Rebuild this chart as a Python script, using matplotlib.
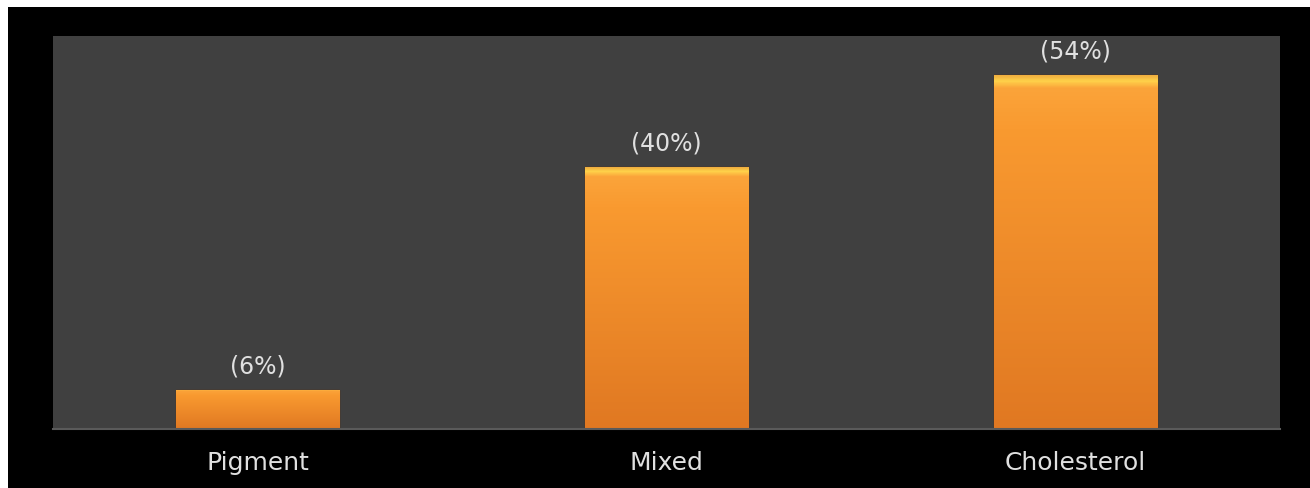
import numpy as np
import matplotlib.pyplot as plt
from matplotlib.patches import Rectangle
from matplotlib.colors import LinearSegmentedColormap

categories = ['Pigment', 'Mixed', 'Cholesterol']
values = [6, 40, 54]
value_labels = ['(6%)', '(40%)', '(54%)']

W, H = 1310, 489
fig = plt.figure(figsize=(W / 100, H / 100), dpi=100, facecolor='black')

# thin white strip on top and left edge like the screenshot
fig.patches.append(Rectangle((0, (H - 8) / H), 1, 8 / H, transform=fig.transFigure,
                             facecolor='white', edgecolor='none'))
fig.patches.append(Rectangle((0, 0), 8 / W, 1, transform=fig.transFigure,
                             facecolor='white', edgecolor='none'))

ax = fig.add_axes([53 / W, (H - 430) / H, 1227 / W, 393 / H])
ax.set_facecolor('#404040')

x = np.arange(len(categories))
bars = ax.bar(x, values, width=0.4, color='#F39230', edgecolor='#5a2e0c',
              linewidth=1.0, zorder=2)

# vertical orange gradient with a yellow highlight at the top of each bar
grad_cmap = LinearSegmentedColormap.from_list(
    'bar', [(0.0, '#E07822'), (0.85, '#F99A30'), (0.965, '#FBA43A'),
            (0.985, '#FFD24A'), (1.0, '#F0B040')])
grad = np.linspace(0, 1, 256).reshape(-1, 1)
for b in bars:
    bx, by = b.get_x(), b.get_y()
    bw, bh = b.get_width(), b.get_height()
    im = ax.imshow(grad, cmap=grad_cmap, origin='lower', aspect='auto',
                   extent=[bx, bx + bw, by, by + bh], zorder=2.5)
    im.set_clip_path(b)

for xi, v, lab in zip(x, values, value_labels):
    ax.annotate(lab, (xi, v), xytext=(0, 9), textcoords='offset points',
                ha='center', va='bottom', color='#e0e0e0', fontsize=17,
                family='DejaVu Sans')

ax.set_xlim(-0.5, 2.5)
ax.set_ylim(0, 60)
ax.set_xticks(x)
ax.set_xticklabels(categories, color='#e0e0e0', fontsize=18,
                   family='DejaVu Sans')
ax.tick_params(axis='x', length=0, pad=15)
ax.set_yticks([])
for s in ['top', 'right', 'left']:
    ax.spines[s].set_visible(False)
ax.spines['bottom'].set_color('#5a5a5a')
ax.spines['bottom'].set_linewidth(1.5)

fig.savefig('out.png', dpi=100, facecolor=fig.get_facecolor())
